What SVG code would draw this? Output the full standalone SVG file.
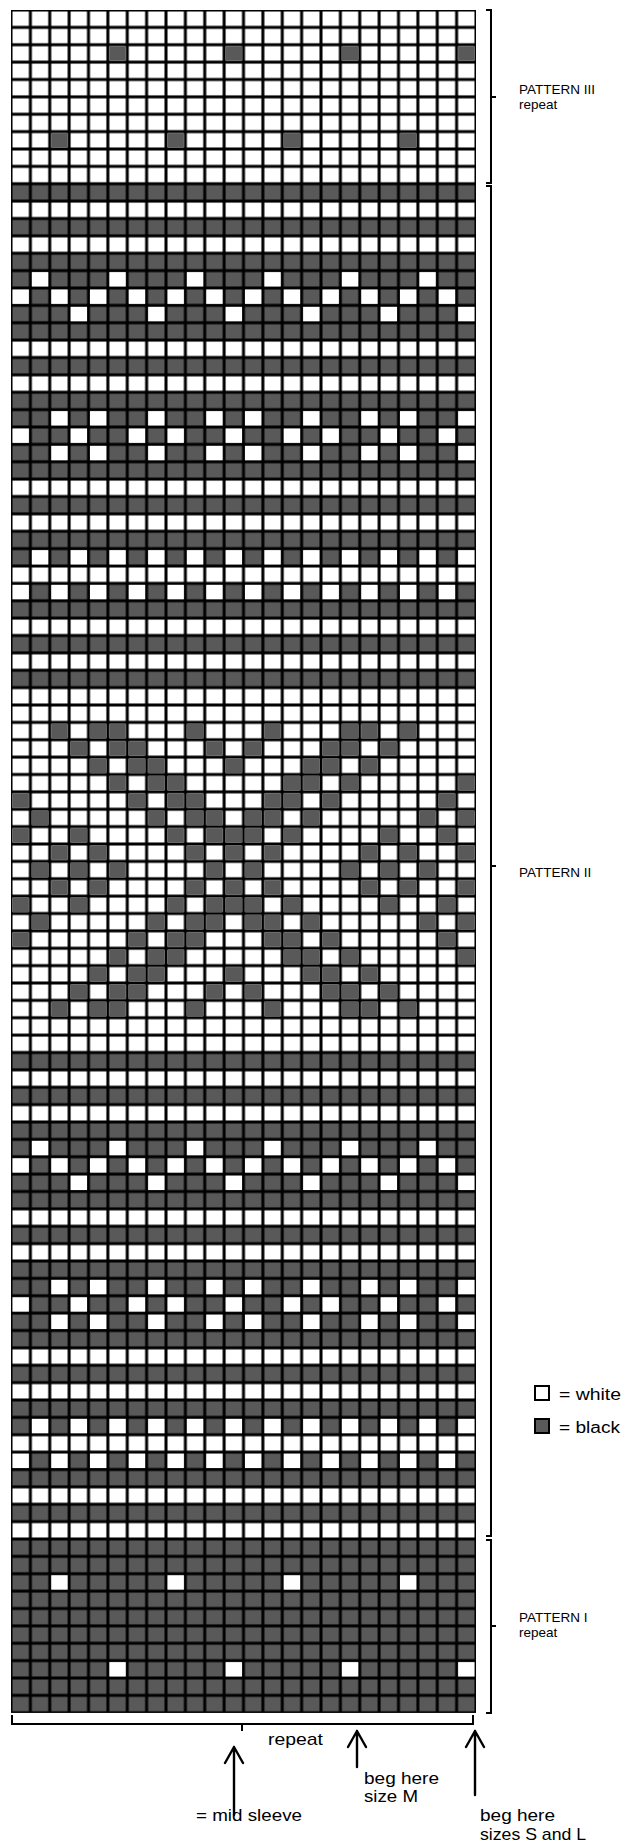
<svg xmlns="http://www.w3.org/2000/svg" xmlns:xlink="http://www.w3.org/1999/xlink" width="627" height="1842" viewBox="0 0 627 1842">
<style>
text{font-family:"Liberation Sans",Arial,sans-serif;fill:#000}
.lab{font-size:13.5px}
.bot{font-size:17px}
.br{fill:none;stroke:#000;stroke-width:2}
.ar{fill:none;stroke:#000;stroke-width:2.4;stroke-linecap:round;stroke-linejoin:round}
</style>
<defs>
<pattern id="pw" x="11" y="10" width="19.375" height="17.375" patternUnits="userSpaceOnUse"><rect width="19.375" height="17.375" fill="#000"/><rect x="1.5" y="1.5" width="16.375" height="14.375" fill="#fff"/></pattern>
<pattern id="pd" x="11" y="10" width="19.375" height="17.375" patternUnits="userSpaceOnUse"><rect width="19.375" height="17.375" fill="#000"/><rect x="1.5" y="1.5" width="16.375" height="14.375" fill="#595959"/></pattern>
<rect id="k0" x="12.5" y="1.5" width="16.375" height="14.375"/>
<rect id="k1" x="31.875" y="1.5" width="16.375" height="14.375"/>
<rect id="k2" x="51.25" y="1.5" width="16.375" height="14.375"/>
<rect id="k3" x="70.625" y="1.5" width="16.375" height="14.375"/>
<rect id="k4" x="90" y="1.5" width="16.375" height="14.375"/>
<rect id="k5" x="109.375" y="1.5" width="16.375" height="14.375"/>
<rect id="k6" x="128.75" y="1.5" width="16.375" height="14.375"/>
<rect id="k7" x="148.125" y="1.5" width="16.375" height="14.375"/>
<rect id="k8" x="167.5" y="1.5" width="16.375" height="14.375"/>
<rect id="k9" x="186.875" y="1.5" width="16.375" height="14.375"/>
<rect id="k10" x="206.25" y="1.5" width="16.375" height="14.375"/>
<rect id="k11" x="225.625" y="1.5" width="16.375" height="14.375"/>
<rect id="k12" x="245" y="1.5" width="16.375" height="14.375"/>
<rect id="k13" x="264.375" y="1.5" width="16.375" height="14.375"/>
<rect id="k14" x="283.75" y="1.5" width="16.375" height="14.375"/>
<rect id="k15" x="303.125" y="1.5" width="16.375" height="14.375"/>
<rect id="k16" x="322.5" y="1.5" width="16.375" height="14.375"/>
<rect id="k17" x="341.875" y="1.5" width="16.375" height="14.375"/>
<rect id="k18" x="361.25" y="1.5" width="16.375" height="14.375"/>
<rect id="k19" x="380.625" y="1.5" width="16.375" height="14.375"/>
<rect id="k20" x="400" y="1.5" width="16.375" height="14.375"/>
<rect id="k21" x="419.375" y="1.5" width="16.375" height="14.375"/>
<rect id="k22" x="438.75" y="1.5" width="16.375" height="14.375"/>
<rect id="k23" x="458.125" y="1.5" width="16.375" height="14.375"/>
<g id="w15" fill="#fff"><use href="#k1"/><use href="#k5"/><use href="#k9"/><use href="#k13"/><use href="#k17"/><use href="#k21"/></g>
<g id="wE" fill="#fff"><use href="#k0"/><use href="#k2"/><use href="#k4"/><use href="#k6"/><use href="#k8"/><use href="#k10"/><use href="#k12"/><use href="#k14"/><use href="#k16"/><use href="#k18"/><use href="#k20"/><use href="#k22"/></g>
<g id="wO" fill="#fff"><use href="#k1"/><use href="#k3"/><use href="#k5"/><use href="#k7"/><use href="#k9"/><use href="#k11"/><use href="#k13"/><use href="#k15"/><use href="#k17"/><use href="#k19"/><use href="#k21"/><use href="#k23"/></g>
<g id="w17" fill="#fff"><use href="#k3"/><use href="#k7"/><use href="#k11"/><use href="#k15"/><use href="#k19"/><use href="#k23"/></g>
<g id="w23" fill="#fff"><use href="#k2"/><use href="#k4"/><use href="#k7"/><use href="#k10"/><use href="#k12"/><use href="#k15"/><use href="#k18"/><use href="#k20"/><use href="#k23"/></g>
<g id="w24" fill="#fff"><use href="#k0"/><use href="#k3"/><use href="#k6"/><use href="#k8"/><use href="#k11"/><use href="#k14"/><use href="#k16"/><use href="#k19"/><use href="#k22"/></g>
<g id="w90" fill="#fff"><use href="#k2"/><use href="#k8"/><use href="#k14"/><use href="#k20"/></g>
<g id="w95" fill="#fff"><use href="#k5"/><use href="#k11"/><use href="#k17"/><use href="#k23"/></g>
<g id="d2" fill="#595959"><use href="#k5"/><use href="#k11"/><use href="#k17"/><use href="#k23"/></g>
<g id="d7" fill="#595959"><use href="#k2"/><use href="#k8"/><use href="#k14"/><use href="#k20"/></g>
<g id="m41" fill="#595959"><use href="#k2"/><use href="#k4"/><use href="#k5"/><use href="#k9"/><use href="#k13"/><use href="#k17"/><use href="#k18"/><use href="#k20"/></g>
<g id="m42" fill="#595959"><use href="#k3"/><use href="#k5"/><use href="#k6"/><use href="#k10"/><use href="#k12"/><use href="#k16"/><use href="#k17"/><use href="#k19"/></g>
<g id="m43" fill="#595959"><use href="#k4"/><use href="#k6"/><use href="#k7"/><use href="#k11"/><use href="#k15"/><use href="#k16"/><use href="#k18"/></g>
<g id="m44" fill="#595959"><use href="#k5"/><use href="#k7"/><use href="#k8"/><use href="#k14"/><use href="#k15"/><use href="#k17"/><use href="#k23"/></g>
<g id="m45" fill="#595959"><use href="#k0"/><use href="#k6"/><use href="#k8"/><use href="#k9"/><use href="#k13"/><use href="#k14"/><use href="#k16"/><use href="#k22"/></g>
<g id="m46" fill="#595959"><use href="#k1"/><use href="#k7"/><use href="#k9"/><use href="#k10"/><use href="#k12"/><use href="#k13"/><use href="#k15"/><use href="#k21"/><use href="#k23"/></g>
<g id="m47" fill="#595959"><use href="#k0"/><use href="#k3"/><use href="#k8"/><use href="#k10"/><use href="#k11"/><use href="#k12"/><use href="#k14"/><use href="#k19"/><use href="#k22"/></g>
<g id="m48" fill="#595959"><use href="#k2"/><use href="#k4"/><use href="#k9"/><use href="#k11"/><use href="#k13"/><use href="#k18"/><use href="#k20"/><use href="#k23"/></g>
<g id="m49" fill="#595959"><use href="#k1"/><use href="#k3"/><use href="#k5"/><use href="#k10"/><use href="#k12"/><use href="#k17"/><use href="#k19"/><use href="#k21"/></g>
</defs>
<rect width="627" height="1842" fill="#fff"/>
<g id="chart">
<rect x="11" y="10" width="465" height="1702.75" fill="url(#pw)"/>
<g id="dark-rows">
<rect x="11" y="183.75" width="465" height="17.375" fill="url(#pd)"/>
<rect x="11" y="218.5" width="465" height="17.375" fill="url(#pd)"/>
<rect x="11" y="253.25" width="465" height="86.875" fill="url(#pd)"/>
<rect x="11" y="357.5" width="465" height="17.375" fill="url(#pd)"/>
<rect x="11" y="392.25" width="465" height="86.875" fill="url(#pd)"/>
<rect x="11" y="496.5" width="465" height="17.375" fill="url(#pd)"/>
<rect x="11" y="531.25" width="465" height="34.75" fill="url(#pd)"/>
<rect x="11" y="583.375" width="465" height="34.75" fill="url(#pd)"/>
<rect x="11" y="635.5" width="465" height="17.375" fill="url(#pd)"/>
<rect x="11" y="670.25" width="465" height="17.375" fill="url(#pd)"/>
<rect x="11" y="1052.5" width="465" height="17.375" fill="url(#pd)"/>
<rect x="11" y="1087.25" width="465" height="17.375" fill="url(#pd)"/>
<rect x="11" y="1122" width="465" height="86.875" fill="url(#pd)"/>
<rect x="11" y="1226.25" width="465" height="17.375" fill="url(#pd)"/>
<rect x="11" y="1261" width="465" height="86.875" fill="url(#pd)"/>
<rect x="11" y="1365.25" width="465" height="17.375" fill="url(#pd)"/>
<rect x="11" y="1400" width="465" height="34.75" fill="url(#pd)"/>
<rect x="11" y="1452.125" width="465" height="34.75" fill="url(#pd)"/>
<rect x="11" y="1504.25" width="465" height="17.375" fill="url(#pd)"/>
<rect x="11" y="1539" width="465" height="173.75" fill="url(#pd)"/>
</g>
<g id="cells">
<use href="#d2" y="44.75"/>
<use href="#d7" y="131.625"/>
<use href="#w15" y="270.625"/>
<use href="#wE" y="288"/>
<use href="#w17" y="305.375"/>
<use href="#w23" y="409.625"/>
<use href="#w24" y="427"/>
<use href="#w23" y="444.375"/>
<use href="#wO" y="548.625"/>
<use href="#wE" y="583.375"/>
<use href="#m41" y="722.375"/>
<use href="#m42" y="739.75"/>
<use href="#m43" y="757.125"/>
<use href="#m44" y="774.5"/>
<use href="#m45" y="791.875"/>
<use href="#m46" y="809.25"/>
<use href="#m47" y="826.625"/>
<use href="#m48" y="844"/>
<use href="#m49" y="861.375"/>
<use href="#m48" y="878.75"/>
<use href="#m47" y="896.125"/>
<use href="#m46" y="913.5"/>
<use href="#m45" y="930.875"/>
<use href="#m44" y="948.25"/>
<use href="#m43" y="965.625"/>
<use href="#m42" y="983"/>
<use href="#m41" y="1000.375"/>
<use href="#w15" y="1139.375"/>
<use href="#wE" y="1156.75"/>
<use href="#w17" y="1174.125"/>
<use href="#w23" y="1278.375"/>
<use href="#w24" y="1295.75"/>
<use href="#w23" y="1313.125"/>
<use href="#wO" y="1417.375"/>
<use href="#wE" y="1452.125"/>
<use href="#w90" y="1573.75"/>
<use href="#w95" y="1660.625"/>
</g>
</g>
<g id="braces">
<path class="br" d="M486,10 H491 V183 H486 M491,97 H496"/>
<path class="br" d="M486,186 H491 V1536 H486 M491,866 H496"/>
<path class="br" d="M486,1540 H491 V1713 H486 M491,1626 H496"/>
<path class="br" d="M12,1715 V1724 H473 V1715 M242,1724 V1731"/>
</g>
<g id="labels">
<text class="lab" x="519" y="94">PATTERN III</text>
<text class="lab" x="519" y="109">repeat</text>
<text class="lab" x="519" y="877">PATTERN II</text>
<text class="lab" x="519" y="1622">PATTERN I</text>
<text class="lab" x="519" y="1637">repeat</text>
</g>
<g id="legend">
<rect x="535" y="1386" width="14" height="14" fill="#fff" stroke="#000" stroke-width="2"/>
<text x="559" y="1400" font-size="16" textLength="62" lengthAdjust="spacingAndGlyphs">= white</text>
<rect x="535" y="1419" width="14" height="14" fill="#595959" stroke="#000" stroke-width="2"/>
<text x="559" y="1433" font-size="16" textLength="61" lengthAdjust="spacingAndGlyphs">= black</text>
</g>
<g id="arrows">
<path class="ar" d="M234,1815 V1747 M225,1763 L234,1747 L243,1763"/>
<path class="ar" d="M357,1767 V1731 M348,1747 L357,1731 L366,1747"/>
<path class="ar" d="M475,1795 V1731 M466,1747 L475,1731 L484,1747"/>
</g>
<g id="bottom-text">
<text class="bot" x="268" y="1745" textLength="55" lengthAdjust="spacingAndGlyphs">repeat</text>
<text class="bot" x="196" y="1821" textLength="106" lengthAdjust="spacingAndGlyphs">= mid sleeve</text>
<text class="bot" x="364" y="1784" textLength="75" lengthAdjust="spacingAndGlyphs">beg here</text>
<text class="bot" x="364" y="1802" textLength="54" lengthAdjust="spacingAndGlyphs">size M</text>
<text class="bot" x="480" y="1821" textLength="75" lengthAdjust="spacingAndGlyphs">beg here</text>
<text class="bot" x="480" y="1840" textLength="106" lengthAdjust="spacingAndGlyphs">sizes S and L</text>
</g>
</svg>
